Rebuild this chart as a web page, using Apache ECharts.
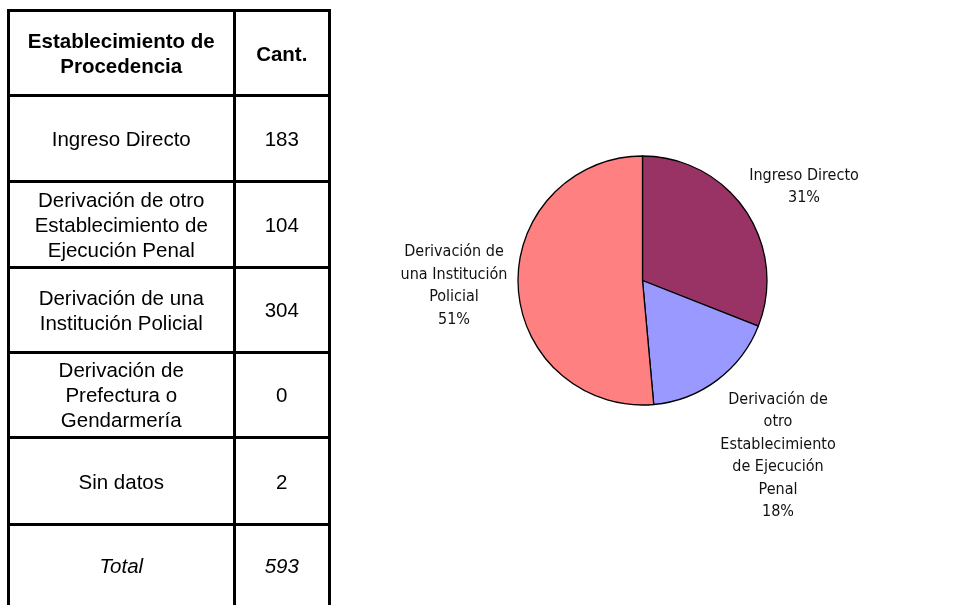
<!DOCTYPE html>
<html>
<head>
<meta charset="utf-8">
<title>Establecimiento de Procedencia</title>
<script src="https://cdn.jsdelivr.net/npm/echarts@6/dist/echarts.min.js"></script>
<style>
  html, body { margin: 0; padding: 0; background: #fff; overflow: hidden; }
  #chart { position: absolute; left: 0; top: 0; width: 968px; height: 605px; }
  #tabla { position: absolute; left: 0; top: 0; font-family: 'Liberation Sans', Arial, sans-serif; font-size: 20.5px; color: #000; }
  .celda {
    position: absolute; box-sizing: border-box; border: 3px solid #000;
    display: flex; align-items: center; justify-content: center;
    text-align: center; line-height: 25px; white-space: pre-line;
  }
</style>
</head>
<body>
<div id="chart"></div>
<div id="tabla"></div>
<script>
  // datos de la tabla
  const encabezados = ['Establecimiento de\nProcedencia', 'Cant.']
  const categorias = [
    'Ingreso Directo',
    'Derivación de otro\nEstablecimiento de\nEjecución Penal',
    'Derivación de una\nInstitución Policial',
    'Derivación de\nPrefectura o\nGendarmería',
    'Sin datos'
  ]
  const cantidades = [183, 104, 304, 0, 2]
  const total = 593

  // porciones del grafico (solo las que aparecen en la torta)
  const porciones = [0, 1, 2]
  const etiquetasTorta = [
    'Ingreso Directo',
    'Derivación de\notro\nEstablecimiento\nde Ejecución\nPenal',
    'Derivación de\nuna Institución\nPolicial'
  ]
  const colores = ['#993366', '#9999FF', '#FF8080']

  // layout de la tabla: centros de las lineas
  const bordesX = [8.5, 234, 329.5]
  const bordesY = [10.5, 95.5, 181.5, 267, 352, 437.5, 524.5, 607]
  // donde van las etiquetas de la torta
  const posEtiquetas = [[804, 187], [778, 456], [454, 286]]

  const filas = [encabezados]
  categorias.forEach((c, i) => filas.push([c, String(cantidades[i])]))
  filas.push(['Total', String(total)])

  const tabla = document.getElementById('tabla')
  filas.forEach((fila, r) => {
    fila.forEach((texto, c) => {
      const d = document.createElement('div')
      d.className = 'celda'
      d.style.left = (bordesX[c] - 1.5) + 'px'
      d.style.top = (bordesY[r] - 1.5) + 'px'
      d.style.width = (bordesX[c + 1] - bordesX[c] + 3) + 'px'
      d.style.height = (bordesY[r + 1] - bordesY[r] + 3) + 'px'
      if (r === 0) d.style.fontWeight = 'bold'
      if (r === filas.length - 1) d.style.fontStyle = 'italic'
      d.textContent = texto
      tabla.appendChild(d)
    })
  })

  const chart = echarts.init(document.getElementById('chart'), null, { renderer: 'canvas' })
  chart.setOption({
    backgroundColor: '#fff',
    animation: false,
    series: [{
      type: 'pie',
      center: [642.5, 280.5],
      radius: 124.5,
      startAngle: 90,
      clockwise: true,
      avoidLabelOverlap: false,
      emphasis: { disabled: true },
      itemStyle: { borderColor: '#000', borderWidth: 1.3 },
      label: {
        show: true,
        position: 'outside',
        color: '#111',
        fontFamily: "'DejaVu Sans Condensed', 'Liberation Sans'",
        fontSize: 16,
        lineHeight: 22.5,
        formatter: (p) => etiquetasTorta[p.dataIndex] + '\n' + Math.round(p.percent) + '%'
      },
      labelLine: { show: false },
      labelLayout: (p) => {
        const pos = posEtiquetas[p.dataIndex]
        return { x: pos[0], y: pos[1], align: 'center', verticalAlign: 'middle' }
      },
      data: porciones.map((i, k) => ({
        name: categorias[i].replace(/\n/g, ' '),
        value: cantidades[i],
        itemStyle: { color: colores[k] }
      }))
    }]
  })
</script>
</body>
</html>
